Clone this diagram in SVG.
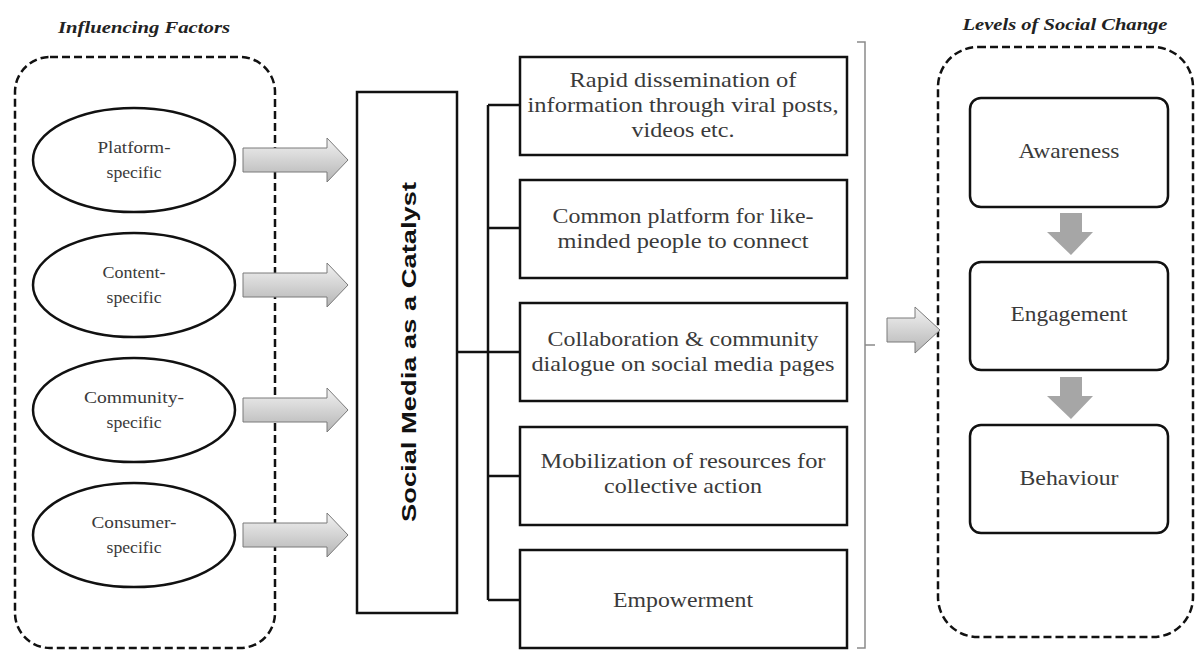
<svg xmlns="http://www.w3.org/2000/svg" width="1197" height="651" viewBox="0 0 1197 651">
<defs>
<linearGradient id="ag" x1="0" y1="0" x2="0" y2="1">
<stop offset="0" stop-color="#f2f2f2"/>
<stop offset="1" stop-color="#b5b5b5"/>
</linearGradient>
<style>
.dash{fill:none;stroke:#111;stroke-width:2.5;stroke-dasharray:8 4}
.ell{fill:#fff;stroke:#111;stroke-width:2.5}
.box{fill:#fff;stroke:#111;stroke-width:2.5}
.garrow{fill:url(#ag);stroke:#7a7a7a;stroke-width:1}
.darrow{fill:#a6a6a6;stroke:none}
.conn{fill:none;stroke:#111;stroke-width:2.5}
.brk{fill:none;stroke:#8a8a8a;stroke-width:1.5}
.t{fill:#3a3a3a;text-anchor:middle}
.s16{font-size:17px}
.s20{font-size:21px}
.ttl{font-style:italic;font-weight:bold;font-size:16px;fill:#222;text-anchor:middle}
.cat{font-weight:bold;font-size:21px;fill:#111;text-anchor:middle}
</style>
</defs>
<rect width="1197" height="651" fill="#fff"/>

<g id="influencing-factors">
<text class="ttl" font-family="Liberation Serif, serif" x="144" y="33" textLength="172" lengthAdjust="spacingAndGlyphs">Influencing Factors</text>
<rect class="dash" x="15" y="57" width="260" height="591" rx="35"/>
</g>

<g id="levels-of-social-change">
<text class="ttl" font-family="Liberation Serif, serif" x="1065" y="30" textLength="205" lengthAdjust="spacingAndGlyphs">Levels of Social Change</text>
<rect class="dash" x="938" y="47" width="255" height="590" rx="40"/>
</g>

<g font-family="Liberation Serif, serif">
<g id="platform-specific">
<ellipse class="ell" cx="134" cy="160" rx="101" ry="52"/>
<text class="t s16" x="134" y="153" textLength="73" lengthAdjust="spacingAndGlyphs">Platform-</text>
<text class="t s16" x="134" y="178" textLength="55" lengthAdjust="spacingAndGlyphs">specific</text>
</g>
<g id="content-specific">
<ellipse class="ell" cx="134" cy="285" rx="101" ry="52"/>
<text class="t s16" x="134" y="278" textLength="63" lengthAdjust="spacingAndGlyphs">Content-</text>
<text class="t s16" x="134" y="303" textLength="55" lengthAdjust="spacingAndGlyphs">specific</text>
</g>
<g id="community-specific">
<ellipse class="ell" cx="134" cy="410" rx="101" ry="52"/>
<text class="t s16" x="134" y="403" textLength="100" lengthAdjust="spacingAndGlyphs">Community-</text>
<text class="t s16" x="134" y="428" textLength="55" lengthAdjust="spacingAndGlyphs">specific</text>
</g>
<g id="consumer-specific">
<ellipse class="ell" cx="134" cy="535" rx="101" ry="52"/>
<text class="t s16" x="134" y="528" textLength="85" lengthAdjust="spacingAndGlyphs">Consumer-</text>
<text class="t s16" x="134" y="553" textLength="55" lengthAdjust="spacingAndGlyphs">specific</text>
</g>

<g id="rapid-dissemination">
<rect class="box" x="520" y="57" width="327" height="98"/>
<text class="t s20" x="683" y="87" textLength="227" lengthAdjust="spacingAndGlyphs">Rapid dissemination  of</text>
<text class="t s20" x="683" y="112" textLength="311" lengthAdjust="spacingAndGlyphs">information  through viral posts,</text>
<text class="t s20" x="683" y="137" textLength="103" lengthAdjust="spacingAndGlyphs">videos etc.</text>
</g>
<g id="common-platform">
<rect class="box" x="520" y="180" width="327" height="98"/>
<text class="t s20" x="683" y="223" textLength="261" lengthAdjust="spacingAndGlyphs">Common platform for like-</text>
<text class="t s20" x="683" y="248" textLength="251" lengthAdjust="spacingAndGlyphs">minded people to connect</text>
</g>
<g id="collaboration">
<rect class="box" x="520" y="303" width="327" height="98"/>
<text class="t s20" x="683" y="346" textLength="271" lengthAdjust="spacingAndGlyphs">Collaboration &amp; community</text>
<text class="t s20" x="683" y="371" textLength="303" lengthAdjust="spacingAndGlyphs">dialogue  on social media  pages</text>
</g>
<g id="mobilization">
<rect class="box" x="520" y="427" width="327" height="98"/>
<text class="t s20" x="683" y="468" textLength="285" lengthAdjust="spacingAndGlyphs">Mobilization  of resources for</text>
<text class="t s20" x="683" y="493" textLength="158" lengthAdjust="spacingAndGlyphs">collective  action</text>
</g>
<g id="empowerment">
<rect class="box" x="520" y="550" width="327" height="98"/>
<text class="t s20" x="683" y="607" textLength="140" lengthAdjust="spacingAndGlyphs">Empowerment</text>
</g>

<g id="awareness">
<rect class="box" x="970" y="98" width="198" height="109" rx="11"/>
<text class="t s20" x="1069" y="158" textLength="101" lengthAdjust="spacingAndGlyphs">Awareness</text>
</g>
<g id="engagement">
<rect class="box" x="970" y="262" width="198" height="108" rx="11"/>
<text class="t s20" x="1069" y="321" textLength="117" lengthAdjust="spacingAndGlyphs">Engagement</text>
</g>
<g id="behaviour">
<rect class="box" x="970" y="425" width="198" height="108" rx="11"/>
<text class="t s20" x="1069" y="485" textLength="99" lengthAdjust="spacingAndGlyphs">Behaviour</text>
</g>
</g>

<g id="catalyst">
<rect class="box" x="357" y="92" width="100" height="521"/>
<text class="cat" font-family="Liberation Sans, Arial, sans-serif" transform="translate(416,352) rotate(-90)" x="0" y="0" textLength="340" lengthAdjust="spacingAndGlyphs">Social Media as a Catalyst</text>
</g>

<g id="connectors">
<path class="garrow" d="M243,148 H327 V138 L348,160 L327,182 V172 H243 Z"/>
<path class="garrow" d="M243,273 H327 V263 L348,285 L327,307 V297 H243 Z"/>
<path class="garrow" d="M243,398 H327 V388 L348,410 L327,432 V422 H243 Z"/>
<path class="garrow" d="M243,523 H327 V513 L348,535 L327,557 V547 H243 Z"/>
<path class="conn" d="M457,352 H488 M488,105 V600 M488,105 H520 M488,228 H520 M488,352 H520 M488,476 H520 M488,600 H520"/>
<path class="brk" d="M857,42 H865 V648 H857 M865,345 H875"/>
<path class="garrow" d="M887,318 H915 V307 L940,330 L915,353 V342 H887 Z"/>
<path class="darrow" d="M1060,213 H1082 V232 H1093 L1071,255 L1047,232 H1060 Z"/>
<path class="darrow" d="M1060,377 H1082 V396 H1093 L1071,419 L1047,396 H1060 Z"/>
</g>
</svg>
